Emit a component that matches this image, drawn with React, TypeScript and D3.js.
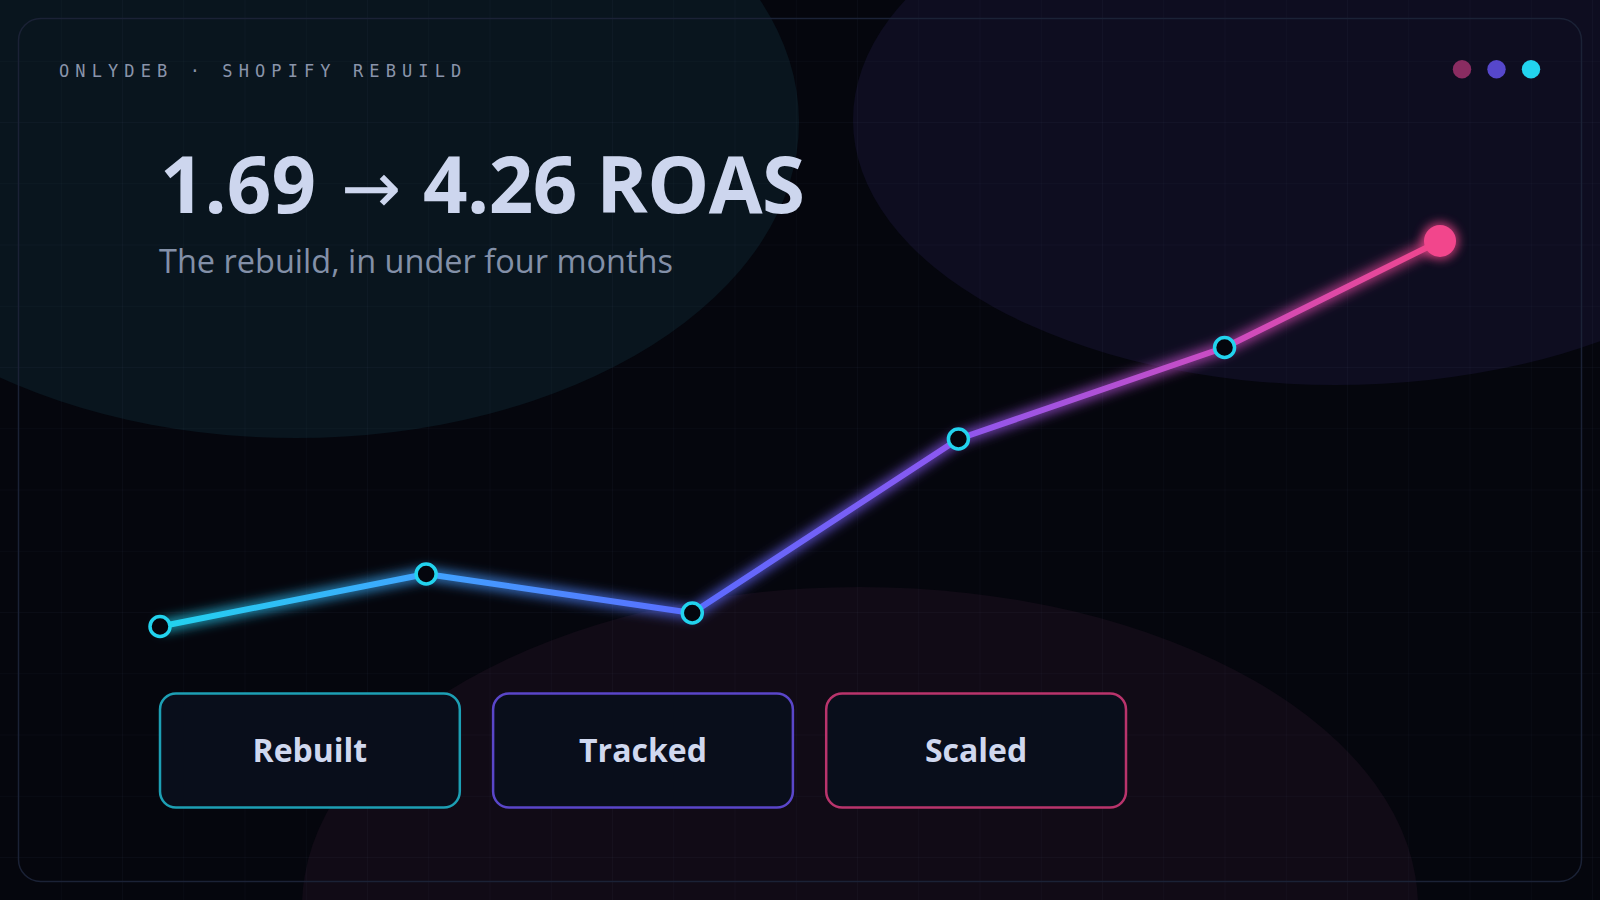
import React from "react";
import * as d3 from "d3";

// ---- data ----
const dayOffsets = [0, 21, 42, 63, 84, 101];
const roasValues = [1.69, 2.04, 1.78, 2.94, 3.55, 4.26];
const stageLabels = ["Rebuilt", "Tracked", "Scaled"];
const stageColors = ["#1d9fb4", "#5a46c9", "#b9346c"];
const headerDots = ["#8a2c61", "#5647cb", "#22d3ee"];
const lineStops = [
  { offset: 0, color: "#22d3ee" },
  { offset: 0.2, color: "#3fa6ff" },
  { offset: 0.42, color: "#5b6bff" },
  { offset: 0.62, color: "#8d57f0" },
  { offset: 0.83, color: "#cc4cc2" },
  { offset: 1, color: "#f0468c" },
];

const W = 1600;
const H = 900;

export default function App() {
  const x = d3.scaleLinear().domain([0, 101]).range([160, 1440]);
  const y = d3.scaleLinear().domain([0, 5]).range([880, 130]);
  const pts: [number, number][] = dayOffsets.map((d, i) => [x(d), y(roasValues[i])]);
  const linePath = d3.line()(pts) || "";
  const gridStep = 61.25;
  const gridX = d3.range(gridStep, W, gridStep);
  const gridY = d3.range(gridStep, H, gridStep);

  const btn = d3.scaleBand().domain(stageLabels).range([160, 1126]).paddingInner(0.1);

  const last = pts[pts.length - 1];
  const sans = "'Open Sans', 'Noto Sans', sans-serif";

  return (
    <svg
      width={W}
      height={H}
      viewBox={`0 0 ${W} ${H}`}
      style={{ position: "fixed", left: 0, top: 0, display: "block" }}
    >
      <defs>
        <linearGradient id="lineGrad" gradientUnits="userSpaceOnUse" x1={x(0)} y1={0} x2={x(101)} y2={0}>
          {lineStops.map((s) => (
            <stop key={s.offset} offset={s.offset} stopColor={s.color} />
          ))}
        </linearGradient>
        <filter id="glow" x="-20%" y="-50%" width="140%" height="200%">
          <feGaussianBlur stdDeviation="6" />
        </filter>
        <filter id="dotGlow" x="-100%" y="-100%" width="300%" height="300%">
          <feGaussianBlur stdDeviation="5" />
        </filter>
      </defs>

      <rect x={0} y={0} width={W} height={H} fill="#05060d" />

      {/* background blobs */}
      <ellipse cx={296} cy={122} rx={503} ry={316} fill="#09151e" />
      <ellipse cx={1335} cy={120} rx={482} ry={265} fill="#0e0d20" />
      <ellipse cx={860} cy={907} rx={558} ry={320} fill="#110b16" />

      {/* grid */}
      <g stroke="#7d8fb8" strokeOpacity={0.05} strokeWidth={1}>
        {gridX.map((gx) => (
          <line key={"gx" + gx} x1={gx} x2={gx} y1={0} y2={H} />
        ))}
        {gridY.map((gy) => (
          <line key={"gy" + gy} x1={0} x2={W} y1={gy} y2={gy} />
        ))}
      </g>

      {/* card */}
      <rect x={18.5} y={18.5} width={1563} height={863} rx={22} fill="none" stroke="#1b2236" strokeWidth={1.5} />

      {/* header */}
      <text
        x={59}
        y={76.8}
        fill="#8a94aa"
        fontFamily="'DejaVu Sans Mono', monospace"
        fontSize={17}
        letterSpacing={6.1}
      >
        ONLYDEB · SHOPIFY REBUILD
      </text>
      {headerDots.map((c, i) => (
        <circle key={c} cx={1462 + i * 34.5} cy={69.3} r={9.2} fill={c} />
      ))}

      {/* title */}
      <text y={212.7} fill="#cdd6ee" fontFamily={sans} fontWeight={700} fontSize={78}>
        <tspan x={160}>1.69</tspan>
        <tspan x={341} fontFamily="'DejaVu Sans', sans-serif" fontWeight={400} fontSize={72}>→</tspan>
        <tspan x={423} letterSpacing={-0.6}>4.26 ROAS</tspan>
      </text>
      <text x={159} y={273} fill="#8390a8" fontFamily={sans} fontWeight={400} fontSize={32.5}>
        The rebuild, in under four months
      </text>

      {/* line */}
      <path d={linePath} fill="none" stroke="url(#lineGrad)" strokeWidth={11} strokeOpacity={0.8} filter="url(#glow)" strokeLinejoin="round" />
      <path d={linePath} fill="none" stroke="url(#lineGrad)" strokeWidth={6} strokeLinejoin="round" strokeLinecap="round" />

      {pts.slice(0, -1).map((p, i) => (
        <circle key={i} cx={p[0]} cy={p[1]} r={10} fill="#04060d" stroke="#22d3ee" strokeWidth={3.5} />
      ))}
      <circle cx={last[0]} cy={last[1]} r={19} fill="#f0468c" opacity={0.7} filter="url(#dotGlow)" />
      <circle cx={last[0]} cy={last[1]} r={16} fill="#f2468c" />

      {/* stage buttons */}
      {stageLabels.map((s, i) => {
        const bx = btn(s) as number;
        const bw = btn.bandwidth();
        return (
          <g key={s}>
            <rect x={bx} y={693.5} width={bw} height={114} rx={16} fill="#090e1b" stroke={stageColors[i]} strokeWidth={2.5} />
            <text
              x={bx + bw / 2}
              y={762.3}
              textAnchor="middle"
              fill="#d0d8ef"
              fontFamily={sans}
              fontWeight={700}
              fontSize={32}
            >
              {s}
            </text>
          </g>
        );
      })}
    </svg>
  );
}
